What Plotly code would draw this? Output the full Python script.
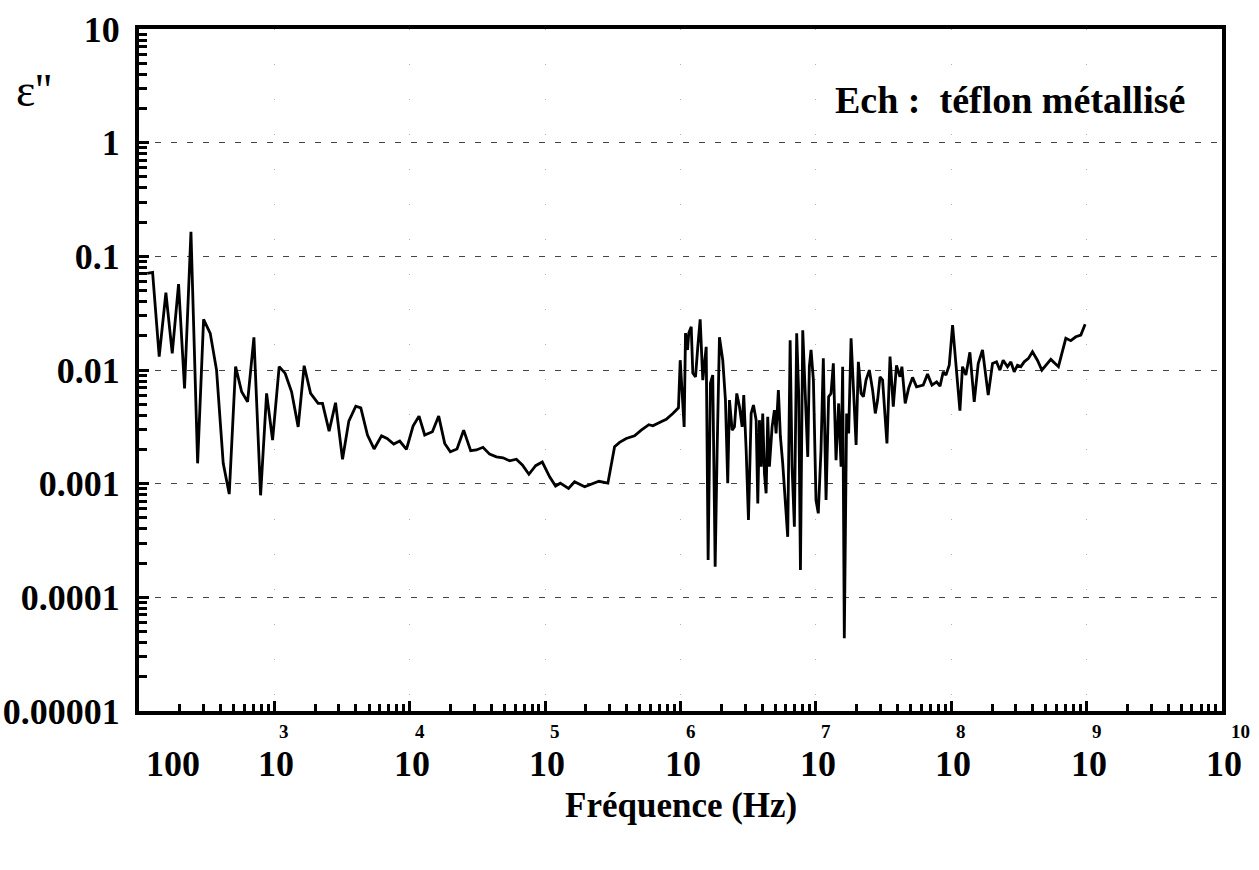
import plotly.graph_objects as go

# ---- data ----
freq_hz = [
    115, 126, 141, 158, 176, 196, 217, 242, 271, 300, 336, 374, 419, 464, 517, 573, 634, 706, 791, 876,
    970, 1085, 1202, 1340, 1499, 1660, 1851, 2104, 2268, 2537, 2830, 3187, 3548, 3994, 4350, 4872, 5453,
    6186, 6798, 7615, 8433, 9454, 10580, 11710, 12900, 14700, 16360, 18120, 19950, 22340, 25020, 28180,
    31050, 34740, 38900, 43650, 48850, 54700, 61300, 67900, 75900, 85100, 95300, 108000, 119400, 129400,
    148900, 165000, 195800, 219300, 249600, 290800, 325900, 354800, 397300, 457700, 513000, 583600,
    625100, 700000, 785000, 877800, 966000,
    9.95e5, 1.028e6, 1.064e6, 1.089e6, 1.127e6, 1.151e6, 1.200e6, 1.233e6, 1.291e6, 1.342e6, 1.397e6,
    1.461e6, 1.548e6, 1.600e6, 1.664e6, 1.730e6, 1.803e6, 1.865e6, 1.940e6, 2.052e6, 2.148e6, 2.233e6,
    2.300e6, 2.408e6, 2.504e6, 2.604e6, 2.727e6, 2.853e6, 2.933e6, 3.055e6, 3.177e6, 3.326e6, 3.459e6,
    3.621e6, 3.723e6, 3.829e6, 3.945e6, 4.048e6, 4.169e6, 4.290e6, 4.410e6, 4.537e6, 4.749e6, 4.938e6,
    5.082e6, 5.284e6, 5.470e6, 5.689e6, 5.957e6, 6.194e6, 6.455e6, 6.670e6, 6.937e6, 7.215e6, 7.465e6,
    7.691e6, 7.998e6, 8.375e6, 8.709e6, 8.95e6, 9.21e6, 9.59e6,
    1.002e7, 1.042e7, 1.091e7, 1.135e7, 1.189e7, 1.242e7, 1.294e7, 1.346e7, 1.409e7, 1.473e7, 1.535e7,
    1.577e7, 1.622e7, 1.687e7, 1.746e7, 1.820e7, 1.901e7, 1.982e7, 2.060e7, 2.158e7, 2.244e7, 2.346e7,
    2.483e7, 2.625e7, 2.748e7, 2.858e7, 2.978e7, 3.11e7, 3.35e7, 3.53e7, 3.73e7, 3.94e7, 4.18e7, 4.32e7,
    4.57e7, 4.84e7, 5.18e7, 5.54e7, 6.21e7, 6.68e7, 7.20e7, 7.80e7, 8.26e7, 8.73e7, 9.14e7, 9.66e7,
    1.023e8, 1.084e8, 1.159e8, 1.211e8, 1.283e8, 1.373e8, 1.478e8, 1.582e8, 1.702e8, 1.875e8, 2.018e8,
    2.159e8, 2.287e8, 2.419e8, 2.603e8, 2.758e8, 2.917e8, 3.084e8, 3.266e8, 3.458e8, 3.718e8, 3.98e8,
    4.33e8, 4.67e8, 5.00e8, 5.44e8, 5.85e8, 6.19e8, 7.02e8, 7.64e8, 8.32e8, 9.06e8, 9.75e8,
]

eps_loss = [
    0.0708, 0.0722, 0.0131, 0.0478, 0.0140, 0.0569, 0.00689, 0.164, 0.00151, 0.0279, 0.0210, 0.00998,
    0.00151, 0.00081, 0.0107, 0.00643, 0.00525, 0.0194, 0.00079, 0.00622, 0.00242, 0.0107, 0.00933,
    0.00643, 0.00316, 0.0109, 0.00622, 0.00508, 0.00508, 0.00290, 0.00515, 0.00164, 0.00355, 0.00481,
    0.00465, 0.00268, 0.00202, 0.00264, 0.00250, 0.00223, 0.00237, 0.00200, 0.00321, 0.00393, 0.00268,
    0.00286, 0.00393, 0.00226, 0.00191, 0.00202, 0.00296, 0.00195, 0.00198, 0.00209, 0.00182, 0.00172,
    0.00169, 0.00159, 0.00164, 0.00146, 0.00121, 0.00144, 0.00155, 0.00115, 0.000953, 0.00101, 0.000909,
    0.00104, 0.000939, 0.000993, 0.00105, 0.00101, 0.00211, 0.00231, 0.00250, 0.00264, 0.00296, 0.00330,
    0.00323, 0.00346, 0.00368, 0.00415, 0.00465,
    0.0122, 0.00581, 0.00316, 0.0211, 0.0150, 0.0211, 0.0240, 0.00939, 0.00871, 0.0160, 0.0279,
    0.00815, 0.0160, 0.000213, 0.00767, 0.00902, 0.000186, 0.00198, 0.0194, 0.0122, 0.00544, 0.00101,
    0.00544, 0.00296, 0.00316, 0.00622, 0.00475, 0.00316, 0.00601, 0.00198, 0.000479, 0.00415, 0.00491,
    0.00362, 0.000671, 0.00362, 0.00141, 0.00415, 0.00123, 0.000822, 0.00388, 0.00141, 0.00316, 0.00444,
    0.00277, 0.00665, 0.00259, 0.00151, 0.000718, 0.000341, 0.0183, 0.00141, 0.000418, 0.0210, 0.00622,
    0.000174, 0.0224, 0.00544, 0.00172, 0.0107, 0.0150, 0.00815,
    0.000718, 0.000548, 0.00198, 0.01265, 0.000718, 0.00581, 0.00622, 0.01143, 0.00161, 0.00508, 0.00141,
    0.0107, 0.0000436, 0.00415, 0.00277, 0.0190, 0.00622, 0.00219, 0.0118, 0.00622, 0.00581, 0.00815,
    0.00998, 0.00665, 0.00415, 0.00544, 0.00871, 0.00815, 0.00226, 0.0131, 0.00475, 0.0110, 0.00871, 0.0107,
    0.00508, 0.00689, 0.00861, 0.00712, 0.00737, 0.00920, 0.00737, 0.00787, 0.00722, 0.00964, 0.00902, 0.0110,
    0.0248, 0.0107, 0.00438, 0.0107, 0.00902, 0.0143, 0.00525, 0.0114, 0.0150, 0.00601, 0.0114,
    0.0118, 0.00998, 0.0122, 0.0107, 0.0118, 0.00964, 0.0110, 0.0107, 0.0118, 0.01265, 0.01445,
    0.0122, 0.00998, 0.0110, 0.0124, 0.0114, 0.0107, 0.0190, 0.0181, 0.0196, 0.0203, 0.0253,
]

x_exponents = [2, 3, 4, 5, 6, 7, 8, 9, 10]
y_tick_vals = [1e-5, 1e-4, 1e-3, 1e-2, 1e-1, 1, 10]
y_tick_text = ["0.00001", "0.0001", "0.001", "0.01", "0.1", "1", "10"]

title_text = "Ech&nbsp;:&nbsp;&nbsp;téflon métallisé"
x_title = "Fréquence (Hz)"
y_title = "ε''"

SERIF = "Liberation Serif, Times New Roman, serif"

fig = go.Figure()
fig.add_trace(go.Scatter(
    x=freq_hz, y=eps_loss, mode="lines",
    line=dict(color="black", width=2.8),
    showlegend=False, hoverinfo="skip",
))

fig.update_xaxes(
    type="log", range=[2, 10], automargin=False,
    tickvals=[10 ** e for e in x_exponents],
    showticklabels=False,
    ticks="inside", ticklen=10, tickwidth=3, tickcolor="black",
    minor=dict(ticks="inside", ticklen=7, tickwidth=3, tickcolor="black", dtick="D1", showgrid=False),
    showline=True, linewidth=4, linecolor="black", mirror=True,
    showgrid=True, gridcolor="#b0b0b0", gridwidth=1, griddash="1px,34px",
    zeroline=False,
)
fig.update_yaxes(
    type="log", range=[-5, 1], automargin=False,
    tickvals=y_tick_vals, ticktext=["<b>%s</b>" % t for t in y_tick_text],
    tickfont=dict(family=SERIF, size=36, color="black"),
    ticklabelstandoff=8,
    ticks="inside", ticklen=10, tickwidth=3, tickcolor="black",
    minor=dict(ticks="inside", ticklen=8, tickwidth=3, tickcolor="black", dtick="D1", showgrid=False),
    showline=True, linewidth=4, linecolor="black", mirror=True,
    showgrid=True, gridcolor="#444444", gridwidth=1, griddash="6px,10px",
    zeroline=False,
)

annotations = []
for e in x_exponents:
    if e == 2:
        annotations.append(dict(
            x=e, y=-0.077, xref="x", yref="paper", text="<b>100</b>", showarrow=False,
            xshift=34, font=dict(family=SERIF, size=36, color="black"),
            xanchor="center", yanchor="middle"))
    else:
        annotations.append(dict(
            x=e, y=-0.077, xref="x", yref="paper", text="<b>10</b>", showarrow=False,
            xshift=2, font=dict(family=SERIF, size=36, color="black"),
            xanchor="center", yanchor="middle"))
        annotations.append(dict(
            x=e, y=-0.030, xref="x", yref="paper", text="<b>%d</b>" % e, showarrow=False,
            xshift=10 if e < 10 else 18, font=dict(family=SERIF, size=19, color="black"),
            xanchor="center", yanchor="middle"))

annotations.append(dict(
    x=0.5, y=-0.138, xref="paper", yref="paper", text="<b>%s</b>" % x_title,
    showarrow=False, font=dict(family=SERIF, size=35, color="black"),
    xanchor="center", yanchor="middle"))
annotations.append(dict(
    x=-0.097, y=0.91, xref="paper", yref="paper", text=y_title,
    showarrow=False, font=dict(family=SERIF, size=46, color="black"),
    xanchor="center", yanchor="middle"))
annotations.append(dict(
    x=0.968, y=0.896, xref="paper", yref="paper", text="<b>%s</b>" % title_text,
    showarrow=False, font=dict(family=SERIF, size=38, color="black"),
    xanchor="right", yanchor="middle"))

fig.update_layout(
    width=1259, height=870,
    margin=dict(l=139, r=37, t=29, b=159),
    paper_bgcolor="white", plot_bgcolor="white",
    font=dict(family=SERIF, color="black"),
    annotations=annotations,
)

fig.write_html("out.html", include_plotlyjs=True, full_html=True,
               config={"displayModeBar": False})
